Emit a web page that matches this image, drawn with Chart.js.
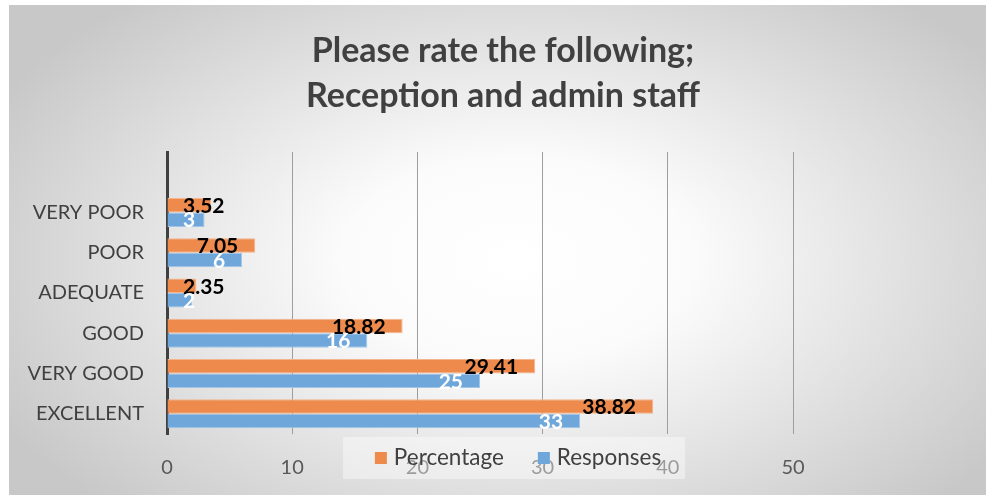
<!DOCTYPE html>
<html lang="en">
<head>
  <meta charset="UTF-8">
  <title>Reception and admin staff</title>
  <script src="https://cdn.jsdelivr.net/npm/chart.js"></script>
  <style>
    body {
      margin: 0;
      background: #ffffff;
    }
    #box {
      position: absolute;
      left: 9px;
      top: 5px;
      width: 977px;
      height: 490px;
      background: radial-gradient(ellipse 60% 70% at 52% 52%, #ffffff 0%, #fbfbfb 30%, #c8c8c8 100%);
    }
  </style>
</head>
<body>
  <div id="box">
    <canvas id="ratingChart" width="977" height="490"></canvas>
  </div>

  <script>
    // Datos
    const categories = ['VERY POOR', 'POOR', 'ADEQUATE', 'GOOD', 'VERY GOOD', 'EXCELLENT'];
    const percentage = [3.52, 7.05, 2.35, 18.82, 29.41, 38.82];
    const responses = [3, 6, 2, 16, 25, 33];
    const xTicks = [0, 10, 20, 30, 40, 50];
    const titleLines = ['Please rate the following;', 'Reception and admin staff'];

    const FONT = 'Lato, "Liberation Sans", sans-serif';

    // Titulo centrado en todo el recuadro (no solo sobre el area del grafico)
    const boxTitle = {
      id: 'boxTitle',
      afterDraw(chart) {
        const ctx = chart.ctx;
        ctx.save();
        ctx.font = 'bold 34px ' + FONT;
        ctx.fillStyle = '#404040';
        ctx.textAlign = 'center';
        ctx.textBaseline = 'middle';
        titleLines.forEach((t, i) => ctx.fillText(t, 494, 46 + i * 45));
        ctx.restore();
      }
    };

    // Etiquetas de valor en cada barra
    const valueLabels = {
      id: 'valueLabels',
      afterDatasetsDraw(chart) {
        const ctx = chart.ctx;
        const left = chart.chartArea.left;
        ctx.save();
        ctx.font = 'bold 21px ' + FONT;
        ctx.textBaseline = 'middle';
        ctx.textAlign = 'left';
        chart.data.datasets.forEach((ds, i) => {
          const meta = chart.getDatasetMeta(i);
          meta.data.forEach((bar, j) => {
            const v = ds.data[j];
            if (v === null) return;
            const txt = String(v);
            const w = ctx.measureText(txt).width;
            const x = Math.max(left + 16, bar.x - 17 - w);
            ctx.fillStyle = i === 0 ? '#000000' : '#ffffff';
            ctx.fillText(txt, x, bar.y + 1);
          });
        });
        ctx.restore();
      }
    };

    // Leyenda encima de las etiquetas del eje, como en el original
    const overlayLegend = {
      id: 'overlayLegend',
      afterDraw(chart) {
        const ctx = chart.ctx;
        ctx.save();
        ctx.fillStyle = 'rgba(255,255,255,0.4)';
        ctx.fillRect(334, 432, 342, 42);
        ctx.font = '22.5px ' + FONT;
        ctx.textBaseline = 'middle';
        ctx.textAlign = 'left';
        const items = chart.data.datasets;
        const widths = items.map(d => ctx.measureText(d.label).width);
        const total = widths.reduce((a, b) => a + b, 0) + items.length * 19 + 34 * (items.length - 1);
        let x = 509 - total / 2;
        const y = 453;
        items.forEach((d, i) => {
          ctx.fillStyle = d.backgroundColor;
          ctx.fillRect(x, y - 6, 12, 12);
          ctx.fillStyle = '#404040';
          ctx.fillText(d.label, x + 19, y);
          x += 19 + widths[i] + 34;
        });
        ctx.restore();
      }
    };

    const chart = new Chart(document.getElementById('ratingChart').getContext('2d'), {
      type: 'bar',
      data: {
        labels: [''].concat(categories),
        datasets: [{
          label: 'Percentage',
          data: [null].concat(percentage),
          backgroundColor: '#EE8B4C',
          borderColor: '#F5B48A',
          borderWidth: 1
        }, {
          label: 'Responses',
          data: [null].concat(responses),
          backgroundColor: '#6FA7DB',
          borderColor: '#A3C6E8',
          borderWidth: 1
        }]
      },
      options: {
        indexAxis: 'y',
        responsive: false,
        animation: false,
        devicePixelRatio: 1,
        categoryPercentage: 0.72,
        barPercentage: 1.0,
        layout: { padding: { left: 0, right: 193, top: 147, bottom: 0 } },
        plugins: {
          legend: { display: false },
          tooltip: { enabled: false },
          title: { display: false }
        },
        scales: {
          x: {
            min: 0,
            max: 50,
            afterBuildTicks: s => { s.ticks = xTicks.map(v => ({ value: v })); },
            afterFit: s => { s.height = 61; },
            ticks: { color: '#595959', font: { family: FONT, size: 20 }, padding: 22 },
            grid: { color: '#9e9e9e', lineWidth: 1, drawTicks: false },
            border: { display: false }
          },
          y: {
            z: 1,
            afterFit: s => { s.width = 158; },
            ticks: { color: '#404040', font: { family: FONT, size: 20 }, padding: 23 },
            grid: { display: false, drawTicks: false },
            border: { color: '#404040', width: 3 }
          }
        }
      },
      plugins: [valueLabels, overlayLegend, boxTitle]
    });
  </script>
</body>
</html>
